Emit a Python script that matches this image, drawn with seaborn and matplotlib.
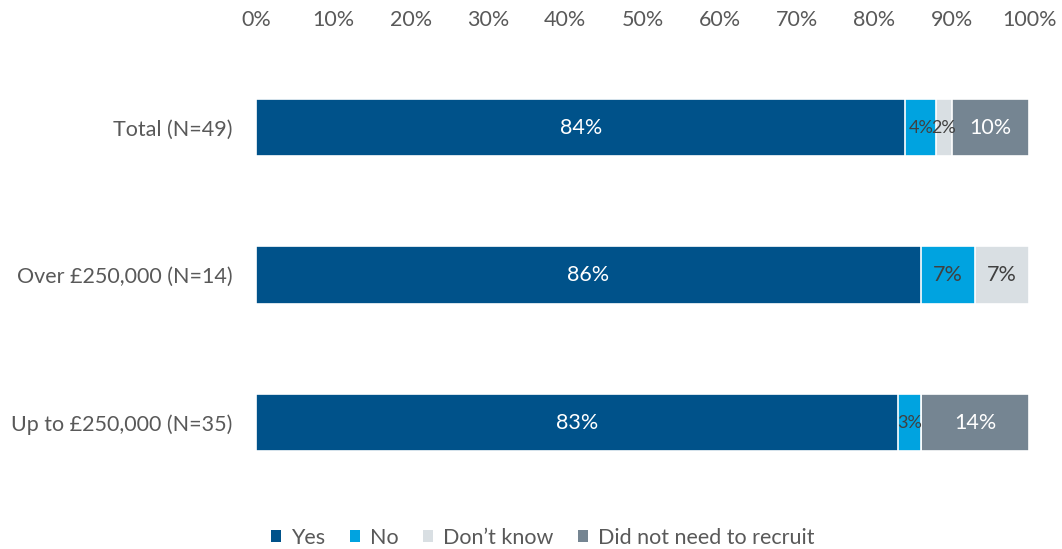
import matplotlib
matplotlib.use("Agg")
import matplotlib.pyplot as plt
from matplotlib.patches import Patch
import seaborn as sns
import pandas as pd
import numpy as np

categories = ["Total (N=49)", "Over £250,000 (N=14)", "Up to £250,000 (N=35)"]
series_names = ["Yes", "No", "Don\u2019t know", "Did not need to recruit"]
yes = [84, 86, 83]
no = [4, 7, 3]
dont_know = [2, 7, 0]
did_not = [10, 0, 14]
tick_values = [0, 10, 20, 30, 40, 50, 60, 70, 80, 90, 100]

colors = ["#00528a", "#00a3e0", "#d9dfe3", "#758592"]
label_colors = ["white", "#404040", "#404040", "white"]

sns.set_theme(style="white")
plt.rcParams["font.family"] = ["Lato", "DejaVu Sans"]

FS = 15.5

fig = plt.figure(figsize=(10.62, 5.49), dpi=100)
ax = fig.add_axes([0.241, 0.096, 0.728, 0.806])

values = np.array([yes, no, dont_know, did_not], dtype=float)
cum = np.cumsum(values, axis=0)

# Stacked bars: draw cumulative totals from the longest down
for i in range(len(series_names) - 1, -1, -1):
    df = pd.DataFrame({"category": categories, "value": cum[i]})
    sns.barplot(data=df, x="value", y="category", orient="h", color=colors[i],
                saturation=1, width=0.39, edgecolor="white", linewidth=1.2, ax=ax)

# Segment labels (slightly smaller type on the thinnest segments)
for i in range(len(series_names)):
    for j, cat in enumerate(categories):
        v = values[i, j]
        if v <= 0:
            continue
        start = cum[i, j] - v
        ax.text(start + v / 2, j, f"{int(v)}%", ha="center", va="center",
                fontsize=FS if v >= 5 else FS - 2.5, color=label_colors[i])

ax.set_xlim(0, 100)
ax.set_ylim(2.5, -0.5)
ax.xaxis.tick_top()
ax.set_xticks(tick_values)
ax.set_xticklabels([f"{t}%" for t in tick_values], fontsize=FS, color="#595959")
ax.tick_params(axis="x", length=0, pad=17)
ax.tick_params(axis="y", length=0, pad=17, labelsize=FS, labelcolor="#595959")
ax.set_xlabel("")
ax.set_ylabel("")
for s in ax.spines.values():
    s.set_visible(False)

handles = [Patch(facecolor=c, edgecolor="none") for c in colors]
fig.legend(handles, series_names, loc="center", bbox_to_anchor=(0.511, 0.02),
           ncol=4, frameon=False, fontsize=FS, handlelength=0.48, handleheight=0.48,
           handletextpad=0.45, columnspacing=1.15, labelcolor="#595959")

fig.savefig("out.png", dpi=100)
